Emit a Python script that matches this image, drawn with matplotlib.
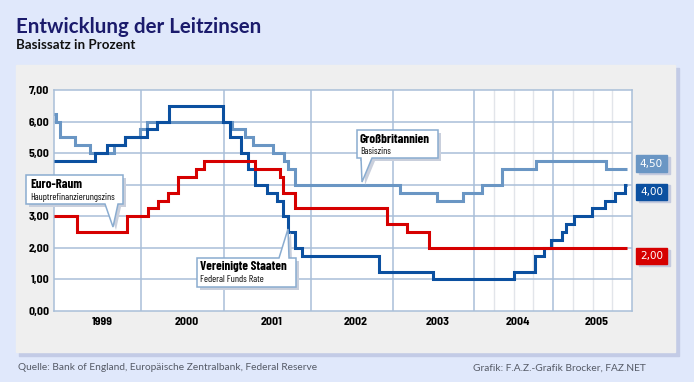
import numpy as np
import matplotlib
matplotlib.use("Agg")
import matplotlib.pyplot as plt
from matplotlib.patches import Rectangle, Polygon

plt.rcParams['font.family'] = ['Barlow Condensed', 'DejaVu Sans']

# Leitzinsen als Stufen: Beginn (Dezimaljahr) und Satz in Prozent
ezb_start = [1999.0, 1999.27, 1999.84, 2000.09, 2000.21, 2000.32, 2000.44, 2000.66, 2000.76,
             2001.36, 2001.64, 2001.68, 2001.82, 2002.93, 2003.18, 2003.45]
ezb_rate = [3.00, 2.50, 3.00, 3.25, 3.50, 3.75, 4.25, 4.50, 4.75,
            4.50, 4.25, 3.75, 3.25, 2.75, 2.50, 2.00]

fed_start = [1999.0, 1999.47, 1999.61, 1999.82, 2000.07, 2000.19, 2000.34, 2000.99,
             2001.07, 2001.20, 2001.28, 2001.36, 2001.49, 2001.61, 2001.68, 2001.73,
             2001.82, 2001.90, 2002.83, 2003.50, 2004.50, 2004.77, 2004.88, 2004.98,
             2005.11, 2005.17, 2005.27, 2005.49, 2005.66, 2005.78, 2005.91]
fed_rate = [4.75, 5.00, 5.25, 5.50, 5.75, 6.00, 6.50, 6.00,
            5.50, 5.00, 4.50, 4.00, 3.75, 3.50, 3.00, 2.50,
            2.00, 1.75, 1.25, 1.00, 1.25, 1.75, 2.00, 2.25,
            2.50, 2.75, 3.00, 3.25, 3.50, 3.75, 4.00]

boe_start = [1999.0, 1999.02, 1999.07, 1999.24, 1999.41, 1999.69, 1999.82, 1999.99, 2000.07,
             2001.09, 2001.24, 2001.33, 2001.56, 2001.69, 2001.73, 2001.82,
             2003.09, 2003.54, 2003.87, 2004.10, 2004.36, 2004.78, 2005.67]
boe_rate = [6.25, 6.00, 5.50, 5.25, 5.00, 5.25, 5.50, 5.75, 6.00,
            5.75, 5.50, 5.25, 5.00, 4.75, 4.50, 4.00,
            3.75, 3.50, 3.75, 4.00, 4.50, 4.75, 4.50]
data_end = 2005.94

years = [1999, 2000, 2001, 2002, 2003, 2004, 2005]
y_ticks = [0, 1, 2, 3, 4, 5, 6, 7]
end_labels = ["4,50", "4,00", "2,00"]

RED = '#d60000'
DARK = '#0b50a0'
LIGHT = '#6a96c4'
GRID = '#a9bfd8'
W, H = 694, 382


def fx(px):
    return px / W


def fy(py):
    return 1 - py / H


# ungleich breite Jahre wie in der Vorlage
yr_edges = [1990, 1999, 2000, 2001, 2002, 2003, 2004, 2005, 2006, 2015]
px_edges = [-783, 0, 87, 170, 257, 338.5, 420, 499, 578, 1289]


def fwd(x):
    return np.interp(x, yr_edges, px_edges)


def inv(p):
    return np.interp(p, px_edges, yr_edges)


fig = plt.figure(figsize=(W / 100, H / 100), dpi=100, facecolor='#e0e8fb')

# grauer Kasten mit Schatten
fig.patches.append(Rectangle((fx(19), fy(356)), fx(660), (356 - 68) / H,
                             transform=fig.transFigure, color='#c3cbe6', zorder=0))
fig.patches.append(Rectangle((fx(16), fy(352)), fx(659), (352 - 65) / H,
                             transform=fig.transFigure, color='#efefef', zorder=0))

ax = fig.add_axes([fx(54), fy(311), fx(578), 221 / H])
ax.set_zorder(1)
ax.set_facecolor('white')
ax.set_xscale('function', functions=(fwd, inv))
ax.set_xlim(1999, 2006)
ax.set_ylim(0, 7)

for h in range(1, 7):
    ax.axhline(h, color=GRID, lw=1.1, zorder=1)
for yr in range(2000, 2006):
    ax.axvline(yr, color=GRID, lw=1.1, zorder=1)
for q in [2004.25, 2004.5, 2004.75, 2005.25, 2005.5, 2005.75]:
    ax.axvline(q, color='#e2e5ea', lw=1.0, zorder=0.8)
for s in ax.spines.values():
    s.set_color(GRID)
    s.set_linewidth(1.1)


def stufen(start, rate, color, z):
    xs = list(start) + [data_end]
    ys = list(rate) + [rate[-1]]
    ax.step(xs, ys, where='post', color=color, lw=2.2, zorder=z,
            solid_joinstyle='miter', solid_capstyle='butt')


stufen(boe_start, boe_rate, LIGHT, 3)
stufen(fed_start, fed_rate, DARK, 4)
stufen(ezb_start, ezb_rate, RED, 5)

tick_font = ['Barlow Semi Condensed', 'DejaVu Sans']
ax.set_yticks(y_ticks)
# 4,00 liegt in der Vorlage unter dem Euro-Raum-Kasten
ax.set_yticklabels(["" if v == 4 else f"{v:.2f}".replace('.', ',') for v in y_ticks],
                   fontsize=8.5, fontweight='bold', family=tick_font)
ax.set_xticks([y + 0.55 for y in years])
ax.set_xticklabels([str(y) for y in years], fontsize=8.5, fontweight='bold', family=tick_font)
ax.tick_params(length=0)
ax.tick_params(axis='y', pad=3.5)
ax.tick_params(axis='x', pad=4)

# Titel
fig.text(fx(16), fy(33), "Entwicklung der Leitzinsen", fontsize=14.8, fontweight='bold',
         family=['Lato', 'DejaVu Sans'], color='#1b1b6c', va='baseline')
fig.text(fx(16), fy(49), "Basissatz in Prozent", fontsize=9.6, fontweight='bold',
         family=['Lato', 'DejaVu Sans'], color='#111111', va='baseline')


# Beschriftungskästen mit Zeiger
def callout(pts, title, sub, tx, ty):
    shadow = [(x + 3, y + 3) for x, y in pts]
    fig.patches.append(Polygon([(fx(x), fy(y)) for x, y in shadow], closed=True,
                               transform=fig.transFigure, facecolor='#c9cfdc',
                               edgecolor='none', zorder=6))
    fig.patches.append(Polygon([(fx(x), fy(y)) for x, y in pts], closed=True,
                               transform=fig.transFigure, facecolor='white',
                               edgecolor='#8aacd0', lw=1.1, zorder=7))
    fig.text(fx(tx), fy(ty), title, fontsize=9.3, fontweight='bold', va='baseline', zorder=8)
    fig.text(fx(tx), fy(ty + 11.5), sub, fontsize=7, va='baseline', zorder=8)


callout([(26, 175), (123, 175), (123, 204), (118, 204), (113, 227), (105, 204), (26, 204)],
        "Euro-Raum", "Hauptrefinanzierungszins", 30, 188.5)
callout([(197, 258), (279, 258), (288, 229), (289, 258), (296, 258), (296, 287), (197, 287)],
        "Vereinigte Staaten", "Federal Funds Rate", 200, 270.5)
callout([(357, 130), (438, 130), (438, 158), (372, 158), (362, 182), (361, 158), (357, 158)],
        "Großbritannien", "Basiszins", 360, 142.5)

# Endwerte rechts
for lab, col, top in zip(end_labels, [LIGHT, DARK, RED], [155, 183.5, 247.5]):
    fig.patches.append(Rectangle((fx(638.5), fy(top + 18.5)), fx(31), 16.5 / H,
                                 transform=fig.transFigure, color='#c4cade', zorder=6))
    fig.patches.append(Rectangle((fx(636), fy(top + 16.5)), fx(31), 16.5 / H,
                                 transform=fig.transFigure, color=col, zorder=7))
    fig.text(fx(651.5), fy(top + 8.5), lab, fontsize=7.5, color='white', family='DejaVu Sans',
             ha='center', va='center', zorder=8)

# Fußzeile
fig.text(fx(18), fy(368), "Quelle: Bank of England, Europäische Zentralbank, Federal Reserve",
         fontsize=7.3, family=['Lato', 'DejaVu Sans'], color='#555a66', va='center')
fig.text(fx(646), fy(368), "Grafik: F.A.Z.-Grafik Brocker, FAZ.NET",
         fontsize=7.3, family=['Lato', 'DejaVu Sans'], color='#555a66',
         va='center', ha='right')

fig.savefig('out.png', dpi=100, facecolor=fig.get_facecolor())
